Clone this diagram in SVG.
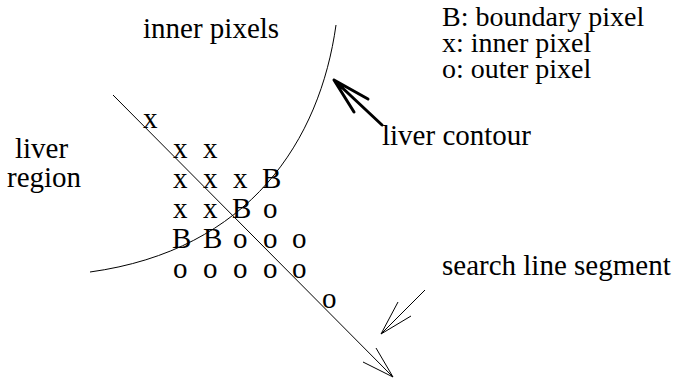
<svg xmlns="http://www.w3.org/2000/svg" width="675" height="386" viewBox="0 0 675 386">
<style>
text{font-family:'Liberation Serif','Times New Roman',Tinos,'DejaVu Serif',serif;font-size:29px;fill:#000}
.leg{font-size:28px}
.thin{fill:none;stroke:#000;stroke-width:1}
.thick{fill:none;stroke:#000;stroke-width:3;stroke-linecap:round;stroke-linejoin:round}
</style>
<rect width="675" height="386" fill="#fff"/>
<g id="labels">
<text x="143" y="38">inner pixels</text>
<text x="15" y="158">liver</text>
<text x="7" y="187">region</text>
<text x="382" y="145">liver contour</text>
<text x="442" y="275">search line segment</text>
</g>
<g id="legend">
<text class="leg"><tspan x="442" y="26">B: boundary pixel</tspan><tspan x="442" y="52">x: inner pixel</tspan><tspan x="442" y="78">o: outer pixel</tspan></text>
</g>
<g id="grid">
<text x="143" y="128">x</text>
<text x="173" y="158">x</text><text x="203" y="158">x</text>
<text x="173" y="188">x</text><text x="203" y="188">x</text><text x="233" y="188">x</text><text x="262" y="188">B</text>
<text x="173" y="218">x</text><text x="203" y="218">x</text><text x="232" y="218">B</text><text x="263" y="218">o</text>
<text x="172" y="248">B</text><text x="203" y="248">B</text><text x="233" y="248">o</text><text x="263" y="248">o</text><text x="292" y="248">o</text>
<text x="173" y="278">o</text><text x="203" y="278">o</text><text x="233" y="278">o</text><text x="263" y="278">o</text><text x="292" y="278">o</text>
<text x="322" y="308">o</text>
</g>
<g id="contour">
<path class="thin" stroke="#333" stroke-width="0.9" d="M336,25 C320,140 250,250 90,272"/>
</g>
<g id="connectors">
<path class="thin" d="M113,95 L393,377 M376,348 L393,377 L363,362"/>
<path class="thin" stroke-width="0.8" d="M425,290 L381,334 M398,302 L381,334 L411,316"/>
<path class="thick" d="M382,125 L334,80 M368,99 L334,80 L354,112"/>
</g>
</svg>
